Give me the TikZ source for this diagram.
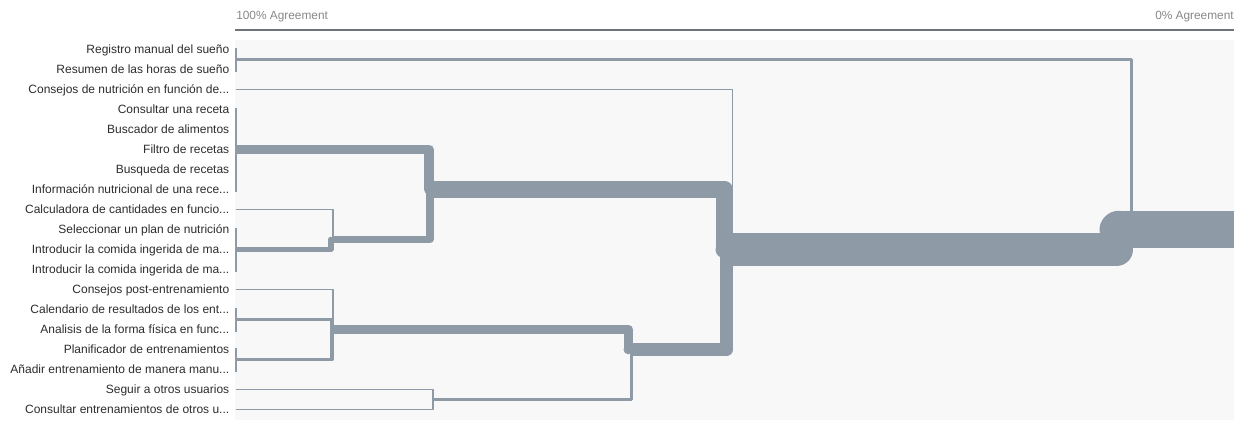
\documentclass[tikz,border=0pt]{standalone}
\usepackage{fontspec}
\setmainfont{Liberation Sans}
\usetikzlibrary{calc}

\definecolor{bandcol}{RGB}{142,154,165}
\definecolor{panelcol}{RGB}{248,248,248}
\definecolor{rulecol}{RGB}{108,117,126}
\definecolor{hdrcol}{RGB}{136,136,136}
\definecolor{labcol}{RGB}{45,45,45}

% truncation mark for long labels
\newcommand\ellp{...}

% dendrogram link: from a child point across to the merge column, then
% along it to the merge height; the stroke width grows with cluster size
\newcommand\dlink[3]{%
  \draw[band, line width=#3*0.75pt] (#1) -- ($(#1 -| #2)+(-#3/2,0)$) -- ($(#2)+(-#3/2,0)$);
  \fill[bandcol] ($(#2)+(-#3/2,0)$) circle[radius=#3*0.375pt];
}

\begin{document}
\begin{tikzpicture}[x=0.75pt, y=-0.75pt,
  band/.style={draw=bandcol, line join=round, line cap=butt},
  leaftick/.style={draw=bandcol, line width=1.5pt},
  lab/.style={anchor=base east, inner sep=0pt, text=labcol, font=\fontsize{9pt}{10pt}\selectfont},
  hdr/.style={inner sep=0pt, text=hdrcol, font=\fontsize{8.9pt}{10pt}\selectfont}]

\useasboundingbox (0,0) rectangle (1257,424);
\fill[white] (0,0) rectangle (1257,424);

% plot area and agreement scale
\fill[panelcol] (235,40) rectangle (1234,420);
\coordinate (ruleL) at (235,30);
\coordinate (ruleR) at (1234,30);
\draw[rulecol, line width=1.5pt] (ruleL) -- (ruleR);
\node[hdr, anchor=base west] (h100) at (236,19.8) {100\% Agreement};
\node[hdr, anchor=base east] (h0) at (1234,19.8) {0\% Agreement};

% leaves and their labels
\foreach \i/\t in {
  0/Registro manual del sueño,
  1/Resumen de las horas de sueño,
  2/Consejos de nutrición en función de\ellp,
  3/Consultar una receta,
  4/Buscador de alimentos,
  5/Filtro de recetas,
  6/Busqueda de recetas,
  7/Información nutricional de una rece\ellp,
  8/Calculadora de cantidades en funcio\ellp,
  9/Seleccionar un plan de nutrición,
  10/Introducir la comida ingerida de ma\ellp,
  11/Introducir la comida ingerida de ma\ellp,
  12/Consejos post-entrenamiento,
  13/Calendario de resultados de los ent\ellp,
  14/Analisis de la forma física en func\ellp,
  15/Planificador de entrenamientos,
  16/Añadir entrenamiento de manera manu\ellp,
  17/Seguir a otros usuarios,
  18/Consultar entrenamientos de otros u\ellp}{
  \coordinate (l\i) at (236,49.5+20*\i);
  \node[lab] (lab\i) at (229.5,53.8+20*\i) {\t};
}

% groups that agree fully
\coordinate (cSleep) at ($(l0)!0.5!(l1)$);
\coordinate (cRec)   at (l5);
\coordinate (cPlan)  at (l10);
\coordinate (cCal)   at ($(l13)!0.5!(l14)$);
\coordinate (cPla)   at ($(l15)!0.5!(l16)$);
\draw[leaftick] ($(l0)+(0,-1.5)$)  -- ($(l1)+(0,2.5)$);
\draw[leaftick] ($(l3)+(0,-1.5)$)  -- ($(l7)+(0,2.5)$);
\draw[leaftick] ($(l9)+(0,-1.5)$)  -- ($(l11)+(0,2.5)$);
\draw[leaftick] ($(l13)+(0,-1.5)$) -- ($(l14)+(0,2.5)$);
\draw[leaftick] ($(l15)+(0,-1.5)$) -- ($(l16)+(0,2.5)$);

% merge points (x = agreement level, y = weighted centre)
\coordinate (mA) at (333.5,239.5);
\coordinate (mB) at (333.5,329.5);
\coordinate (mC) at (433.5,399.5);
\coordinate (mD) at (433.5,189.5);
\coordinate (mE) at (633,349.5);
\coordinate (mF) at (733,249.5);
\coordinate (mG) at (1133,229.5);
\coordinate (gStart) at (1118.75,229.5);
\coordinate (gEnd) at (1234,229.5);

% links
\dlink{l8}{mA}{1.5}
\dlink{cPlan}{mA}{5.5}
\dlink{l12}{mB}{1.5}
\dlink{cCal}{mB}{3.5}
\dlink{cPla}{mB}{3.5}
\dlink{l17}{mC}{1.5}
\dlink{l18}{mC}{1.5}
\dlink{cRec}{mD}{9.5}
\dlink{mA}{mD}{7.5}
\dlink{mB}{mE}{9.5}
\dlink{mC}{mE}{3.5}
\dlink{l2}{mF}{1.5}
\dlink{mD}{mF}{17.5}
\dlink{mE}{mF}{13.5}
\dlink{cSleep}{mG}{3.5}
\dlink{mF}{mG}{33.5}

% root band with a rounded head
\draw[band, line width=37.5*0.75pt] (gStart) -- (gEnd);
\fill[bandcol] (gStart) circle[radius=37.5*0.375pt];

\end{tikzpicture}
\end{document}
